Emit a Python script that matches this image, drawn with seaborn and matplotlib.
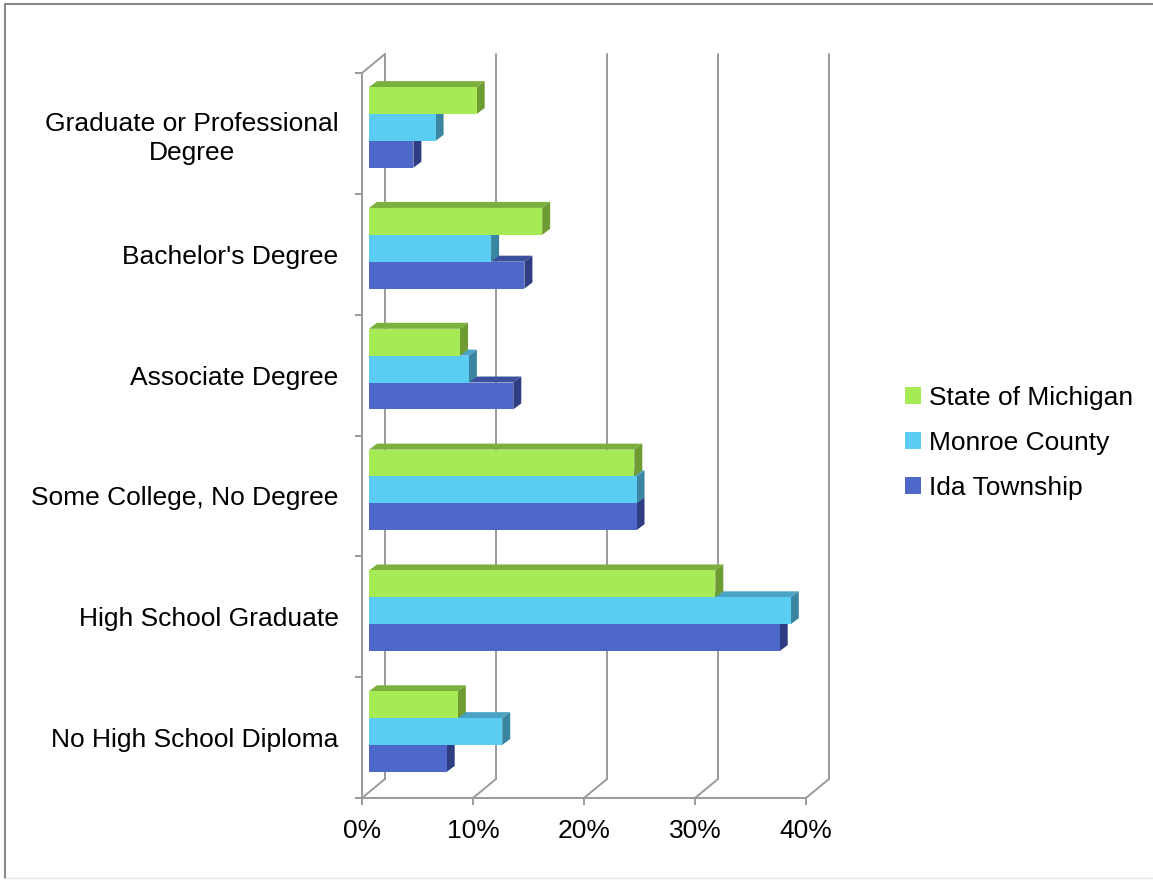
import matplotlib
matplotlib.use("Agg")
import matplotlib.pyplot as plt
from matplotlib.patches import Polygon, Patch
from matplotlib.lines import Line2D
from matplotlib.transforms import offset_copy
import numpy as np
import pandas as pd
import seaborn as sns

# Educational attainment (share of population 25+), by area
levels = [
    "Graduate or Professional\nDegree",
    "Bachelor's Degree",
    "Associate Degree",
    "Some College, No Degree",
    "High School Graduate",
    "No High School Diploma",
]
areas = ["State of Michigan", "Monroe County", "Ida Township"]
michigan = [9.7, 15.6, 8.2, 23.9, 31.2, 8.0]
monroe = [6.0, 11.0, 9.0, 24.1, 38.0, 12.0]
ida = [4.0, 14.0, 13.0, 24.1, 37.0, 7.0]
x_ticks = [0, 10, 20, 30, 40]

df = pd.DataFrame({
    "level": levels * 3,
    "area": [a for a in areas for _ in levels],
    "share": michigan + monroe + ida,
})

# face colours: front, top, side
front_cols = ["#a6ea55", "#5ccdf2", "#4d68c8"]
top_cols = ["#7cb03e", "#4aa2c4", "#3a509e"]
side_cols = ["#6e9b32", "#3a85a0", "#2f3e82"]
grid_col = "#9a9a9a"
FS = 19

sns.set_style("white")
plt.rcParams["font.family"] = ["Liberation Sans", "DejaVu Sans"]

W, H = 1153, 880
fig = plt.figure(figsize=(W / 100, H / 100), dpi=100)

# front plane of the 3-D box in pixels
L, R, T, B = 362, 806, 73, 798
ax = fig.add_axes([L / W, (H - B) / H, (R - L) / W, (B - T) / H])

sns.barplot(data=df, x="share", y="level", hue="area", order=levels,
            hue_order=areas, palette=front_cols, orient="h", width=0.667,
            saturation=1, linewidth=0, legend=False, ax=ax)

ax.set_xlim(0, 40)
ax.set_ylim(5.5, -0.5)

PX_X = 40 / (R - L)   # data units per pixel
PX_Y = 6 / (B - T)


def off(x, y, dx, dy):
    """shift a data point by dx px right and dy px up"""
    return (x + dx * PX_X, y - dy * PX_Y)


# depth of the box and of the bars
DX, DY = 23, 19
BAR_DX, BAR_DY = 7, 6      # bars' front face sits slightly inside the box
FACE_DX, FACE_DY = 8, 6    # bar thickness

# back wall gridlines and floor diagonals
for k in x_ticks:
    ax.add_line(Line2D(*zip(off(k, -0.5, DX, DY), off(k, 5.5, DX, DY)),
                       color=grid_col, lw=1.4, clip_on=False, zorder=1))
    ax.add_line(Line2D(*zip((k, 5.5), off(k, 5.5, DX, DY)),
                       color=grid_col, lw=1.4, clip_on=False, zorder=1))
ax.add_line(Line2D(*zip((0, -0.5), off(0, -0.5, DX, DY)),
                   color=grid_col, lw=1.4, clip_on=False, zorder=1))

# extrude each bar: top and side faces, front face shifted into depth
front_tr = offset_copy(ax.transData, fig=fig, x=BAR_DX, y=BAR_DY, units="dots")
front_rgb = [np.array(matplotlib.colors.to_rgb(c)) for c in front_cols]
for p in list(ax.patches):
    x0, y0 = p.get_x(), p.get_y()
    w, h = p.get_width(), p.get_height()
    rgb = np.array(p.get_facecolor()[:3])
    i = int(np.argmin([np.abs(rgb - c).sum() for c in front_rgb]))
    z = 10 - (y0 + h / 2)
    ytop, ybot = y0, y0 + h
    a = off(x0, ytop, BAR_DX, BAR_DY)
    b = off(x0 + w, ytop, BAR_DX, BAR_DY)
    c = off(x0 + w, ybot, BAR_DX, BAR_DY)
    top = [a, b, off(*b, FACE_DX, FACE_DY), off(*a, FACE_DX, FACE_DY)]
    side = [b, off(*b, FACE_DX, FACE_DY), off(*c, FACE_DX, FACE_DY), c]
    ax.add_patch(Polygon(top, closed=True, facecolor=top_cols[i],
                         edgecolor="none", zorder=z - 0.01, clip_on=False))
    ax.add_patch(Polygon(side, closed=True, facecolor=side_cols[i],
                         edgecolor="none", zorder=z - 0.01, clip_on=False))
    p.set_transform(front_tr)
    p.set_zorder(z)
    p.set_clip_on(False)

# front axes: left and bottom spines with outward ticks
for s in ["top", "right"]:
    ax.spines[s].set_visible(False)
for s in ["left", "bottom"]:
    ax.spines[s].set_color(grid_col)
    ax.spines[s].set_linewidth(1.4)

ax.set_xticks(x_ticks)
ax.set_xticklabels([f"{v}%" for v in x_ticks], fontsize=FS, color="black")
ax.tick_params(axis="x", direction="out", length=5, width=1.4,
               color=grid_col, pad=10, bottom=True)

ax.set_yticks(np.arange(-0.5, 6.0, 1.0))
ax.set_yticklabels([])
ax.set_yticks(np.arange(6), minor=True)
ax.set_yticklabels(levels, minor=True, fontsize=FS, color="black")
ax.tick_params(axis="y", which="major", direction="out", length=5,
               width=1.4, color=grid_col, left=True)
ax.tick_params(axis="y", which="minor", length=0, pad=17)
for t in ax.get_yticklabels(minor=True):
    t.set_multialignment("center")
    t.set_linespacing(1.25)
ax.set_xlabel("")
ax.set_ylabel("")
ax.grid(False)

handles = [Patch(facecolor=c, edgecolor="none") for c in front_cols]
fig.legend(handles, areas, loc="center left",
           bbox_to_anchor=(905 / W, (H - 443) / H), frameon=False,
           fontsize=FS, labelcolor="black", handlelength=0.6,
           handleheight=0.6, handletextpad=0.3, labelspacing=0.8,
           borderpad=0, borderaxespad=0)

# chart area border
fig.add_artist(Line2D([5 / W, 5 / W], [1 - 4 / H, 1 - 878 / H],
                      transform=fig.transFigure, color="#8a8a8a", lw=1.5))
fig.add_artist(Line2D([5 / W, 1.0], [1 - 4 / H, 1 - 4 / H],
                      transform=fig.transFigure, color="#8a8a8a", lw=1.5))
fig.add_artist(Line2D([5 / W, 1.0], [1 - 878 / H, 1 - 878 / H],
                      transform=fig.transFigure, color="#e4e4e4", lw=1.0))

fig.savefig("out.png", dpi=100, facecolor="white")
